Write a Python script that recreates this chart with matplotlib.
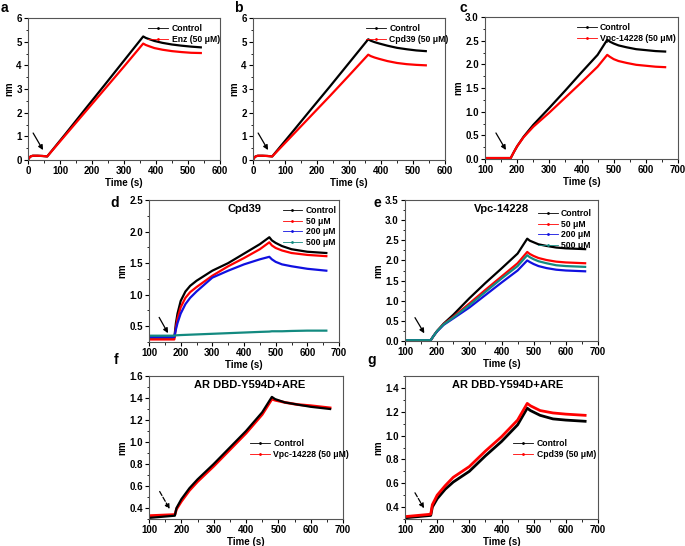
import numpy as np
import matplotlib.pyplot as plt
from matplotlib.lines import Line2D
from matplotlib.ticker import AutoMinorLocator

plt.rcParams['font.family'] = ['Liberation Sans', 'DejaVu Sans']
plt.rcParams['font.weight'] = 'bold'
plt.rcParams['axes.labelweight'] = 'bold'

TEAL = '#138a80'
BLUE = '#1010e0'

# ---- panel a ----
a_t = [0, 3, 8, 15, 30, 45, 60, 120, 180, 240, 300, 360, 368, 380, 395, 420, 450, 480, 510, 540]
a_ctrl = [0, 0.08, 0.15, 0.18, 0.18, 0.17, 0.15, 1.15, 2.17, 3.18, 4.2, 5.22, 5.16, 5.1, 5.03, 4.95, 4.88, 4.83, 4.79, 4.76]
a_enz = [0, 0.08, 0.15, 0.18, 0.18, 0.17, 0.15, 1.1, 2.05, 3.0, 3.95, 4.92, 4.86, 4.8, 4.73, 4.66, 4.6, 4.56, 4.53, 4.52]

# ---- panel b ----
b_t = a_t
b_ctrl = [0, 0.08, 0.15, 0.18, 0.18, 0.17, 0.15, 1.13, 2.12, 3.1, 4.1, 5.1, 5.04, 4.98, 4.92, 4.83, 4.74, 4.68, 4.63, 4.6]
b_cpd = [0, 0.08, 0.15, 0.18, 0.18, 0.17, 0.15, 1.0, 1.85, 2.7, 3.57, 4.45, 4.39, 4.33, 4.27, 4.18, 4.1, 4.05, 4.02, 4.0]

# ---- panel c ----
c_t = [100, 180, 190, 200, 220, 250, 300, 350, 400, 450, 480, 488, 500, 515, 540, 570, 600, 630, 660]
c_ctrl = [0.02, 0.02, 0.15, 0.27, 0.47, 0.72, 1.08, 1.45, 1.83, 2.2, 2.52, 2.48, 2.44, 2.4, 2.36, 2.32, 2.3, 2.28, 2.27]
c_vpc = [0.02, 0.02, 0.15, 0.27, 0.46, 0.68, 0.98, 1.3, 1.62, 1.95, 2.2, 2.16, 2.11, 2.07, 2.03, 1.99, 1.97, 1.95, 1.94]

# ---- panel d (Cpd39 dose) ----
d_t = [100, 180, 185, 190, 200, 215, 230, 250, 300, 350, 400, 450, 480, 488, 500, 520, 550, 600, 660]
d_ctrl = [0.32, 0.32, 0.55, 0.7, 0.9, 1.05, 1.14, 1.22, 1.38, 1.5, 1.65, 1.8, 1.91, 1.86, 1.82, 1.77, 1.72, 1.68, 1.66]
d_50 = [0.29, 0.29, 0.48, 0.62, 0.8, 0.95, 1.04, 1.12, 1.3, 1.45, 1.58, 1.72, 1.83, 1.78, 1.74, 1.7, 1.66, 1.63, 1.61]
d_200 = [0.33, 0.33, 0.45, 0.55, 0.7, 0.85, 0.95, 1.05, 1.27, 1.38, 1.48, 1.56, 1.6, 1.56, 1.52, 1.48, 1.45, 1.41, 1.38]
d_500 = [0.35, 0.35, 0.355, 0.357, 0.36, 0.363, 0.366, 0.37, 0.38, 0.39, 0.4, 0.41, 0.415, 0.42, 0.42, 0.42, 0.425, 0.43, 0.43]

# ---- panel e (Vpc-14228 dose) ----
e_t = [100, 180, 190, 200, 220, 250, 300, 350, 400, 450, 480, 488, 500, 515, 540, 570, 600, 660]
e_ctrl = [0.02, 0.02, 0.14, 0.25, 0.43, 0.65, 1.06, 1.44, 1.8, 2.17, 2.54, 2.49, 2.45, 2.4, 2.36, 2.32, 2.3, 2.28]
e_50 = [0.02, 0.02, 0.14, 0.25, 0.42, 0.6, 0.93, 1.27, 1.6, 1.93, 2.21, 2.16, 2.11, 2.06, 2.01, 1.97, 1.95, 1.93]
e_200 = [0.02, 0.02, 0.14, 0.24, 0.4, 0.56, 0.83, 1.14, 1.45, 1.75, 2.0, 1.96, 1.91, 1.86, 1.81, 1.77, 1.75, 1.73]
e_500 = [0.02, 0.02, 0.14, 0.25, 0.41, 0.58, 0.89, 1.22, 1.55, 1.86, 2.13, 2.08, 2.03, 1.98, 1.93, 1.88, 1.86, 1.84]

# ---- panel f (AR DBD-Y594D, Vpc) ----
f_t = [100, 180, 185, 200, 225, 250, 300, 350, 400, 450, 480, 490, 520, 560, 600, 660]
f_ctrl = [0.31, 0.33, 0.4, 0.48, 0.58, 0.66, 0.8, 0.95, 1.1, 1.27, 1.41, 1.39, 1.36, 1.34, 1.32, 1.3]
f_vpc = [0.33, 0.34, 0.39, 0.46, 0.56, 0.64, 0.78, 0.93, 1.08, 1.25, 1.39, 1.38, 1.36, 1.34, 1.33, 1.31]

# ---- panel g (AR DBD-Y594D, Cpd39) ----
g_t = [100, 180, 185, 200, 225, 250, 300, 350, 400, 450, 480, 490, 520, 560, 600, 660]
g_ctrl = [0.31, 0.33, 0.4, 0.47, 0.55, 0.61, 0.7, 0.83, 0.95, 1.09, 1.23, 1.21, 1.17, 1.14, 1.13, 1.12]
g_cpd = [0.32, 0.34, 0.42, 0.5, 0.58, 0.65, 0.74, 0.87, 0.99, 1.13, 1.27, 1.25, 1.21, 1.19, 1.18, 1.17]

W, H = 685, 546
fig = plt.figure(figsize=(W / 100, H / 100), dpi=100)


def ax_at(l, t, r, b):
    return fig.add_axes([l / W, 1 - b / H, (r - l) / W, (b - t) / H])


def style(ax, xlim, ylim, xticks, yticks, yfmt):
    ax.set_xlim(*xlim)
    ax.set_ylim(*ylim)
    ax.set_xticks(xticks)
    ax.set_yticks(yticks)
    ax.set_yticklabels([yfmt.format(v) for v in yticks])
    ax.xaxis.set_minor_locator(AutoMinorLocator(2))
    ax.yaxis.set_minor_locator(AutoMinorLocator(2))
    ax.tick_params(which='major', direction='out', length=3, width=0.8, labelsize=7, pad=1.5)
    ax.tick_params(which='minor', direction='out', length=1.8, width=0.6)
    for s in ax.spines.values():
        s.set_linewidth(0.8)
        s.set_color('#555555')
    ax.set_xlabel('Time (s)', fontsize=7, labelpad=1.5)
    ax.set_ylabel('nm', fontsize=7, labelpad=1.5)


def legend(ax, names, colors, **kw):
    handles = [Line2D([], [], color=c, lw=0.6, marker='.', markersize=2) for c in colors]
    ax.legend(handles, names, frameon=False, fontsize=6.2, handlelength=2.3,
              handletextpad=0.4, labelspacing=0.2, borderaxespad=0.3, **kw)


def arrow(ax, x0, y0, x1, y1, ls='-'):
    ax.annotate('', xy=(x1, y1), xytext=(x0, y0),
                arrowprops=dict(arrowstyle='-|>', color='black', lw=0.9, ls=ls,
                                mutation_scale=7, shrinkA=0, shrinkB=0))


LW = 1.6

# a
ax = ax_at(28, 18, 220, 160)
ax.plot(a_t, a_ctrl, color='black', lw=LW)
ax.plot(a_t, a_enz, color='red', lw=LW)
style(ax, (0, 600), (0, 6), range(0, 601, 100), range(0, 7), '{:d}')
legend(ax, ['Control', 'Enz (50 μM)'], ['black', 'red'], loc='upper right',
       bbox_to_anchor=(1.03, 1.0))
arrow(ax, 16, 1.14, 47, 0.42)

# b
ax = ax_at(253, 18, 445, 160)
ax.plot(b_t, b_ctrl, color='black', lw=LW)
ax.plot(b_t, b_cpd, color='red', lw=LW)
style(ax, (0, 600), (0, 6), range(0, 601, 100), range(0, 7), '{:d}')
legend(ax, ['Control', 'Cpd39 (50 μM)'], ['black', 'red'], loc='upper right',
       bbox_to_anchor=(1.05, 1.0))
arrow(ax, 16, 1.14, 47, 0.42)

# c
ax = ax_at(485, 17, 678, 159)
ax.plot(c_t, c_ctrl, color='black', lw=LW)
ax.plot(c_t, c_vpc, color='red', lw=LW)
style(ax, (100, 700), (0, 3), range(100, 701, 100), np.arange(0, 3.01, 0.5), '{:.1f}')
legend(ax, ['Control', 'Vpc-14228 (50 μM)'], ['black', 'red'], loc='upper right',
       bbox_to_anchor=(1.02, 1.0))
arrow(ax, 134, 0.55, 165, 0.19)

# d
ax = ax_at(149, 200, 339, 342)
ax.plot(d_t, d_ctrl, color='black', lw=LW)
ax.plot(d_t, d_50, color='red', lw=LW)
ax.plot(d_t, d_200, color=BLUE, lw=LW)
ax.plot(d_t, d_500, color=TEAL, lw=LW)
style(ax, (100, 700), (0.25, 2.5), range(100, 701, 100), [0.5, 1.0, 1.5, 2.0, 2.5], '{:.1f}')
ax.text(0.5, 0.97, 'Cpd39', transform=ax.transAxes, ha='center', va='top', fontsize=8)
legend(ax, ['Control', '50 μM', '200 μM', '500 μM'], ['black', 'red', BLUE, TEAL],
       loc='upper right', bbox_to_anchor=(1.02, 1.0))
arrow(ax, 132, 0.64, 160, 0.39)

# e
ax = ax_at(405, 200, 598, 341)
ax.plot(e_t, e_ctrl, color='black', lw=LW)
ax.plot(e_t, e_50, color='red', lw=LW)
ax.plot(e_t, e_200, color=BLUE, lw=LW)
ax.plot(e_t, e_500, color=TEAL, lw=LW)
style(ax, (100, 700), (0, 3.5), range(100, 701, 100), np.arange(0, 3.51, 0.5), '{:.1f}')
ax.text(0.5, 0.97, 'Vpc-14228', transform=ax.transAxes, ha='center', va='top', fontsize=8)
legend(ax, ['Control', '50 μM', '200 μM', '500 μM'], ['black', 'red', BLUE, TEAL],
       loc='upper right', bbox_to_anchor=(1.0, 0.98))
arrow(ax, 131, 0.58, 160, 0.19)

# f
ax = ax_at(149, 376, 343, 519)
ax.plot(f_t, f_vpc, color='red', lw=LW + 0.4)
ax.plot(f_t, f_ctrl, color='black', lw=LW)
style(ax, (100, 700), (0.3, 1.6), range(100, 701, 100), [0.4, 0.6, 0.8, 1.0, 1.2, 1.4, 1.6], '{:.1f}')
ax.text(0.52, 0.97, 'AR DBD-Y594D+ARE', transform=ax.transAxes, ha='center', va='top', fontsize=8)
legend(ax, ['Control', 'Vpc-14228 (50 μM)'], ['black', 'red'], loc='upper left',
       bbox_to_anchor=(0.49, 0.6))
arrow(ax, 133, 0.55, 164, 0.39, ls='--')

# g
ax = ax_at(405, 376, 598, 519)
ax.plot(g_t, g_ctrl, color='black', lw=LW + 0.4)
ax.plot(g_t, g_cpd, color='red', lw=LW + 0.4)
style(ax, (100, 700), (0.3, 1.5), range(100, 701, 100), [0.4, 0.6, 0.8, 1.0, 1.2, 1.4], '{:.1f}')
ax.text(0.53, 0.97, 'AR DBD-Y594D+ARE', transform=ax.transAxes, ha='center', va='top', fontsize=8)
legend(ax, ['Control', 'Cpd39 (50 μM)'], ['black', 'red'], loc='upper left',
       bbox_to_anchor=(0.53, 0.6))
arrow(ax, 131, 0.52, 159, 0.39, ls='--')

for lab, x, y in [('a', 4, 8), ('b', 238, 8), ('c', 463, 8), ('d', 115, 203),
                  ('e', 377, 203), ('f', 116, 360), ('g', 372, 360)]:
    fig.text(x / W, 1 - y / H, lab, fontsize=10, ha='center', va='center')

fig.savefig('out.png', dpi=100)
